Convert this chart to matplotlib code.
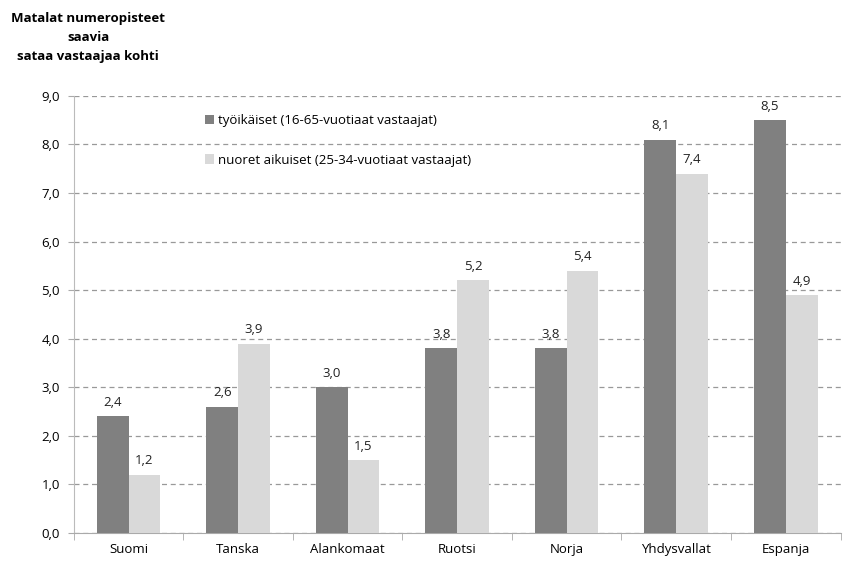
import matplotlib.pyplot as plt
import numpy as np

plt.rcParams['font.family'] = ['Open Sans', 'DejaVu Sans']

maat = ["Suomi", "Tanska", "Alankomaat", "Ruotsi", "Norja", "Yhdysvallat", "Espanja"]
tyoikaiset = [2.4, 2.6, 3.0, 3.8, 3.8, 8.1, 8.5]
nuoret = [1.2, 3.9, 1.5, 5.2, 5.4, 7.4, 4.9]
sarjat = ["työikäiset (16-65-vuotiaat vastaajat)", "nuoret aikuiset (25-34-vuotiaat vastaajat)"]

fig = plt.figure(figsize=(8.49, 5.64), dpi=100)
ax = fig.add_axes([0.087, 0.055, 0.903, 0.775])

x = np.arange(len(maat))
w = 0.29
b1 = ax.bar(x - w / 2, tyoikaiset, w, color="#808080", label=sarjat[0], zorder=3)
b2 = ax.bar(x + w / 2, nuoret, w, color="#d9d9d9", label=sarjat[1], zorder=3)

for bars in (b1, b2):
    for r in bars:
        v = r.get_height()
        ax.text(r.get_x() + r.get_width() / 2, v + 0.15, f"{v:.1f}".replace(".", ","),
                ha="center", va="bottom", fontsize=9.5, color="#222222")

ax.set_ylim(0, 9)
ax.set_xlim(-0.5, len(maat) - 0.5)
ax.set_yticks(np.arange(0, 9.1, 1))
ax.set_yticklabels([f"{t:.1f}".replace(".", ",") for t in np.arange(0, 9.1, 1)], fontsize=9.5)
ax.set_xticks(x)
ax.set_xticklabels(maat, fontsize=9.5)
ax.set_xticks(np.arange(-0.5, len(maat), 1), minor=True)
ax.tick_params(axis="x", which="major", length=0, pad=7)
ax.tick_params(axis="x", which="minor", length=5, color="#aaaaaa")
ax.tick_params(axis="y", length=4, color="#aaaaaa", pad=6)

ax.yaxis.grid(True, linestyle=(0, (4, 3)), color="#999999", linewidth=0.9, zorder=0)
for s in ["top", "right"]:
    ax.spines[s].set_visible(False)
ax.spines["left"].set_color("#bbbbbb")
ax.spines["bottom"].set_color("#aaaaaa")

ax.legend(loc="upper left", bbox_to_anchor=(0.155, 0.985), frameon=False, fontsize=9.5,
          handlelength=0.7, handleheight=0.7, handletextpad=0.3, labelspacing=2.0)

fig.text(0.104, 0.978, "Matalat numeropisteet\nsaavia\nsataa vastaajaa kohti",
         ha="center", va="top", fontsize=9.5, fontweight="bold", linespacing=1.6)

fig.savefig("out.png", dpi=100)
